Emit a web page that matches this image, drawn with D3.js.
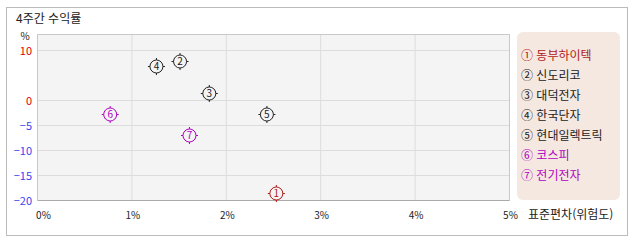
<!DOCTYPE html>
<html lang="ko">
<head>
<meta charset="utf-8">
<script src="https://cdnjs.cloudflare.com/ajax/libs/d3/7.8.5/d3.min.js"></script>
<style>
  body { margin: 0; background: #fff; }
  svg { display: block; font-family: "Noto Sans CJK KR", "DejaVu Sans", sans-serif; }
</style>
</head>
<body>
<svg id="chart" width="638" height="242"></svg>
<script>
// data
var names = ["동부하이텍", "신도리코", "대덕전자", "한국단자", "현대일렉트릭", "코스피", "전기전자"];
var marks = ["①", "②", "③", "④", "⑤", "⑥", "⑦"];
var risk = [2.53, 1.51, 1.82, 1.26, 2.43, 0.77, 1.61];      // 표준편차 %
var ret = [-18.6, 7.8, 1.4, 6.8, -2.8, -2.8, -7.0];          // 4주간 수익률 %
var colors = ["#b01818", "#222", "#222", "#222", "#222", "#b000c0", "#b000c0"];
var xTicks = [0, 1, 2, 3, 4, 5];
var yTicks = [10, 0, -5, -10, -15, -20];

var svg = d3.select("#chart");

// outer box
svg.append("rect").attr("x", 6.5).attr("y", 7.5).attr("width", 621).attr("height", 228)
  .attr("fill", "#fff").attr("stroke", "#bbb");

svg.append("text").attr("x", 16).attr("y", 23).attr("font-size", 12).attr("fill", "#222")
  .text("4주간 수익률");

var x = d3.scaleLinear().domain([0, 5]).range([37.5, 509.5]);
var y = d3.scaleLinear().domain([10, -20]).range([50.5, 200.5]);
var plotTop = 34.5;

// plot background
svg.append("rect").attr("x", x(0)).attr("y", plotTop).attr("width", x(5) - x(0)).attr("height", y(-20) - plotTop)
  .attr("fill", "#f4f4f4");

// grid
svg.append("g").selectAll("line").data(xTicks.slice(1, -1)).enter().append("line")
  .attr("x1", d => x(d)).attr("x2", d => x(d)).attr("y1", plotTop).attr("y2", y(-20))
  .attr("stroke", "#dcdcdc");
svg.append("g").selectAll("line").data(yTicks.slice(0, -1)).enter().append("line")
  .attr("x1", x(0)).attr("x2", x(5)).attr("y1", d => y(d)).attr("y2", d => y(d))
  .attr("stroke", "#dcdcdc");

// frame
svg.append("path")
  .attr("d", "M" + x(0) + "," + y(-20) + "V" + plotTop + "H" + x(5) + "V" + y(-20))
  .attr("fill", "none").attr("stroke", "#c8c8c8");
svg.append("line").attr("x1", x(0)).attr("x2", x(5)).attr("y1", y(-20)).attr("y2", y(-20))
  .attr("stroke", "#aaa");

// y labels
svg.append("g").selectAll("text").data(yTicks).enter().append("text")
  .attr("x", 32).attr("y", d => y(d) + 4).attr("text-anchor", "end").attr("font-size", 11)
  .attr("fill", d => d >= 0 ? "#e00000" : "#4040f0")
  .text(d => d < 0 ? "\u2212" + (-d) : d);
svg.append("text").attr("x", 25).attr("y", 40).attr("text-anchor", "middle")
  .attr("font-size", 10).attr("fill", "#222").text("%");

// x labels
svg.append("g").selectAll("text").data(xTicks).enter().append("text")
  .attr("x", d => d == 0 ? x(d) + 6 : x(d) + 1).attr("y", 219).attr("text-anchor", "middle")
  .attr("font-size", 10).attr("fill", "#222").text(d => d + "%");
svg.append("text").attr("x", 528).attr("y", 219).attr("font-size", 12).attr("fill", "#222")
  .text("표준편차(위험도)");

// points
var pts = svg.append("g").selectAll("g").data(names).enter().append("g")
  .attr("transform", (d, i) => "translate(" + x(risk[i]) + "," + y(ret[i]) + ")");
pts.append("circle").attr("r", 6.5).attr("fill", "none").attr("stroke", (d, i) => colors[i]);
pts.each(function(d, i) {
  var g = d3.select(this);
  [[0, -6.5, 0, -8.5], [0, 6.5, 0, 8.5], [-6.5, 0, -8.5, 0], [6.5, 0, 8.5, 0]].forEach(function(t) {
    g.append("line").attr("x1", t[0]).attr("y1", t[1]).attr("x2", t[2]).attr("y2", t[3])
      .attr("stroke", colors[i]);
  });
});
pts.append("text").attr("text-anchor", "middle").attr("y", 3.5).attr("font-size", 10)
  .attr("fill", (d, i) => colors[i]).text((d, i) => i + 1);

// legend
svg.append("rect").attr("x", 517).attr("y", 32).attr("width", 103).attr("height", 168)
  .attr("rx", 6).attr("fill", "#f5e8e1");
svg.append("g").selectAll("text").data(names).enter().append("text")
  .attr("x", 521).attr("y", (d, i) => 60 + i * 20).attr("font-size", 12)
  .attr("fill", (d, i) => colors[i])
  .text((d, i) => marks[i] + " " + d);
</script>
</body>
</html>
